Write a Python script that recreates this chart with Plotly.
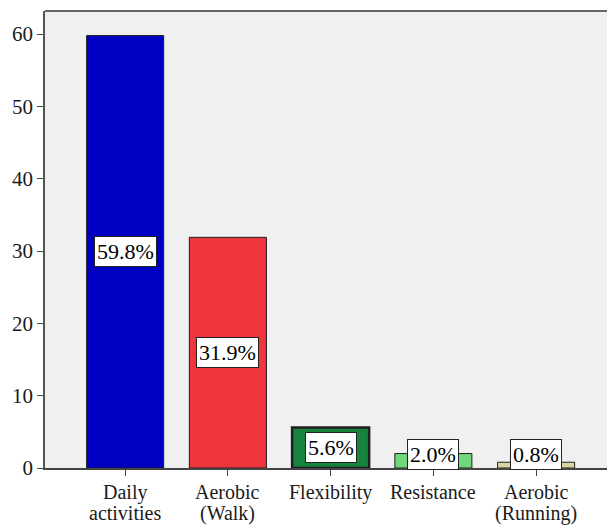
import plotly.graph_objects as go

# Share of participants by type of physical activity (%)
categories = ["Daily<br>activities", "Aerobic<br>(Walk)", "Flexibility", "Resistance", "Aerobic<br>(Running)"]
values = [59.8, 31.9, 5.6, 2.0, 0.8]
labels = ["59.8%", "31.9%", "5.6%", "2.0%", "0.8%"]
bar_colors = ["#0000c4", "#f0343c", "#16843e", "#6ed87a", "#d6d6a0"]
edge_widths = [1, 1, 2.5, 1, 1]

y_ticks = [0, 10, 20, 30, 40, 50, 60]

SERIF = "Times New Roman"
x_pos = list(range(len(categories)))

fig = go.Figure()
fig.add_trace(go.Bar(
    x=x_pos,
    y=values,
    width=0.75,
    marker=dict(color=bar_colors, line=dict(color="#1e1e1e", width=edge_widths)),
    hoverinfo="skip",
))

# value labels sit mid-bar, kept clear of the baseline for short bars
for i, (v, t) in enumerate(zip(values, labels)):
    fig.add_annotation(
        x=i, y=max(v / 2, 1.85), xref="x", yref="y",
        text=t, showarrow=False,
        font=dict(family=SERIF, size=22, color="black"),
        bgcolor="white", bordercolor="#222222", borderwidth=1, borderpad=2,
    )

# category names under the ticks, with tight line spacing
for i, name in enumerate(categories):
    for j, line in enumerate(name.split("<br>")):
        fig.add_annotation(
            x=i, y=0, xref="x", yref="y",
            text=line, showarrow=False,
            yanchor="middle", yshift=-24 - 21 * j,
            font=dict(family=SERIF, size=20, color="#1a1a1a"),
        )

# top edge of the plot frame
fig.add_shape(type="line", xref="paper", yref="paper", x0=0, x1=1, y0=1, y1=1,
              line=dict(color="#666666", width=2))

fig.update_layout(
    width=607, height=525,
    margin=dict(l=45, r=0, t=11, b=57),
    paper_bgcolor="white",
    plot_bgcolor="#f0f0f0",
    showlegend=False,
    font=dict(family=SERIF, size=20, color="#1a1a1a"),
    xaxis=dict(
        tickmode="array",
        tickvals=x_pos,
        showticklabels=False,
        range=[-0.78, 4.69],
        automargin=False,
        showgrid=False, zeroline=False,
        showline=True, linecolor="#444444", linewidth=1.5,
        ticks="outside", ticklen=6, tickcolor="#444444",
    ),
    yaxis=dict(
        range=[0, 63.2],
        tickvals=y_ticks,
        automargin=False,
        showgrid=False, zeroline=False,
        showline=True, linecolor="#555555", linewidth=1.5,
        ticks="outside", ticklen=6, tickcolor="#444444",
        tickfont=dict(family=SERIF, size=21, color="#1a1a1a"),
    ),
)

fig.write_html("out.html")
